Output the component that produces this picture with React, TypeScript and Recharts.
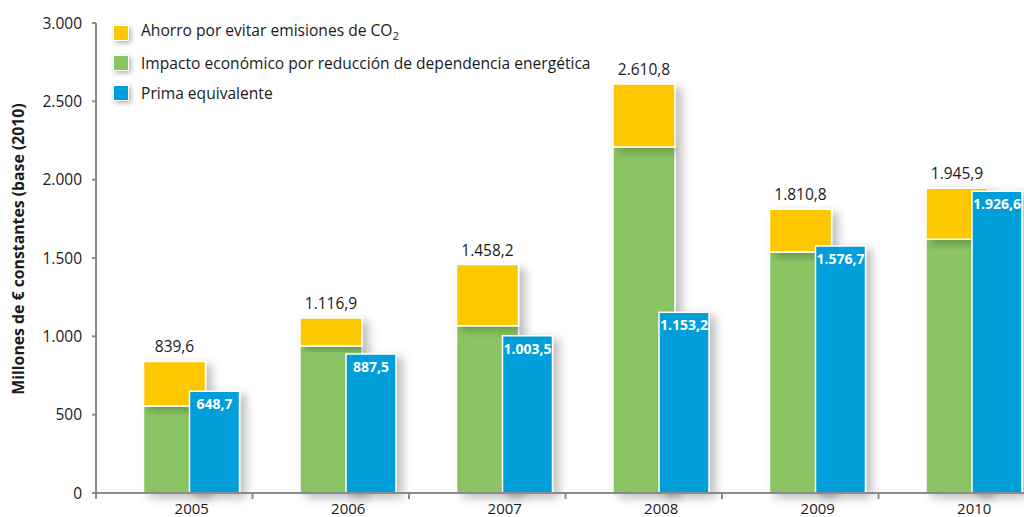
import React from 'react';
import { BarChart, Bar, XAxis, YAxis, LabelList, Rectangle } from 'recharts';

const years = ['2005', '2006', '2007', '2008', '2009', '2010'];
const impacto = [555, 938, 1068, 2208, 1538, 1620];
const ahorro = [284.6, 178.9, 390.2, 402.8, 272.8, 325.9];
const totales = [839.6, 1116.9, 1458.2, 2610.8, 1810.8, 1945.9];
const prima = [648.7, 887.5, 1003.5, 1153.2, 1576.7, 1926.6];
const yTicks = [0, 500, 1000, 1500, 2000, 2500, 3000];

const data = years.map((y, i) => ({
  year: y,
  impacto: impacto[i],
  ahorro: ahorro[i],
  total: totales[i],
  prima: prima[i],
}));

const FONT = '"Open Sans", sans-serif';
const YELLOW = '#FEC800';
const GREEN = '#8BC563';
const BLUE = '#009FDA';
const AXIS = '#8A8A8A';

const fmt = (v: number, dec: number) => {
  const s = v.toFixed(dec);
  const [int, frac] = s.split('.');
  const withDots = int.replace(/\B(?=(\d{3})+(?!\d))/g, '.');
  return frac ? `${withDots},${frac}` : withDots;
};

const ShadowRect = (props: any) => (
  <Rectangle {...props} stroke="#fff" strokeWidth={1.5} filter="url(#barShadow)" />
);

const XTick = (props: any) => {
  const { x, payload } = props;
  const boundary = x - (payload.offset || 0) - 17.5;
  return (
    <g>
      <line x1={boundary} x2={boundary} y1={493} y2={499} stroke={AXIS} strokeWidth={2} />
      <text x={x} y={508} textAnchor="middle" dominantBaseline="central" fontFamily={FONT} fontSize={15} fill="#1a1a1a">
        {payload.value}
      </text>
    </g>
  );
};

const legendItems = [
  { color: YELLOW, label: <>Ahorro por evitar emisiones de CO<sub style={{ fontSize: 11.5 }}>2</sub></> },
  { color: GREEN, label: <>Impacto económico por reducción de dependencia energética</> },
  { color: BLUE, label: <>Prima equivalente</> },
];

const LegendBox = () => (
  <div style={{ position: 'absolute', left: 113, top: 18, fontFamily: FONT, fontSize: 15.6, color: '#1a1a1a' }}>
    {legendItems.map((it, i) => (
      <div key={i} style={{ display: 'flex', alignItems: 'center', height: 30 }}>
        <span
          style={{
            display: 'inline-block',
            width: 14,
            height: 14,
            background: it.color,
            border: '1.5px solid #fff',
            boxShadow: '2px 2px 5px rgba(0,0,0,0.3)',
            marginRight: 12,
          }}
        />
        <span style={{ lineHeight: '18px', whiteSpace: 'nowrap' }}>{it.label}</span>
      </div>
    ))}
  </div>
);

const YLabel = () => (
  <text
    x={18}
    y={249}
    transform="rotate(-90 18 249)"
    textAnchor="middle"
    dominantBaseline="central"
    fontFamily={FONT}
    fontWeight={700}
    fontSize={15.8}
    fill="#1a1a1a"
  >
    Millones de € constantes (base (2010)
  </text>
);

export default function App() {
  return (
    <div style={{ position: 'absolute', left: 0, top: 0, width: 1024, height: 517, overflow: 'hidden', background: '#fff' }}>
      <BarChart
        width={1040}
        height={517}
        data={data}
        margin={{ top: 23, right: 5, bottom: 0, left: 0 }}
        barGap={-16}
      >
        <defs>
          <filter id="barShadow" x="-20%" y="-10%" width="160%" height="130%">
            <feDropShadow dx={6} dy={4} stdDeviation={5} floodColor="#000" floodOpacity={0.25} />
          </filter>
        </defs>
        <XAxis
          dataKey="year"
          padding={{ left: 17.5, right: -17.5 }}
          height={24}
          axisLine={{ stroke: AXIS, strokeWidth: 2 }}
          tickLine={false}
          interval={0}
          tick={<XTick />}
        />
        <YAxis
          width={96}
          domain={[0, 3000]}
          ticks={yTicks}
          interval={0}
          axisLine={{ stroke: AXIS, strokeWidth: 2 }}
          tickLine={{ stroke: AXIS, strokeWidth: 2 }}
          tickSize={4}
          tickMargin={10}
          tick={{ fontFamily: FONT, fontSize: 15.5, fill: '#1a1a1a' }}
          tickFormatter={(v: number) => fmt(v, 0)}
          label={<YLabel />}
        />
        <Bar dataKey="impacto" stackId="a" fill={GREEN} barSize={62} isAnimationActive={false} shape={<ShadowRect />} />
        <Bar dataKey="ahorro" stackId="a" fill={YELLOW} barSize={62} isAnimationActive={false} shape={<ShadowRect />}>
          <LabelList
            dataKey="total"
            position="top"
            offset={9}
            formatter={(v: any) => fmt(Number(v), 1)}
            style={{ fontFamily: FONT, fontSize: 15.5, fill: '#1a1a1a' }}
          />
        </Bar>
        <Bar dataKey="prima" fill={BLUE} barSize={50} isAnimationActive={false} shape={<ShadowRect />}>
          <LabelList
            dataKey="prima"
            position="insideTop"
            offset={8}
            formatter={(v: any) => fmt(Number(v), 1)}
            style={{ fontFamily: FONT, fontSize: 14, fontWeight: 700, fill: '#fff' }}
          />
        </Bar>
      </BarChart>
      <LegendBox />
    </div>
  );
}
